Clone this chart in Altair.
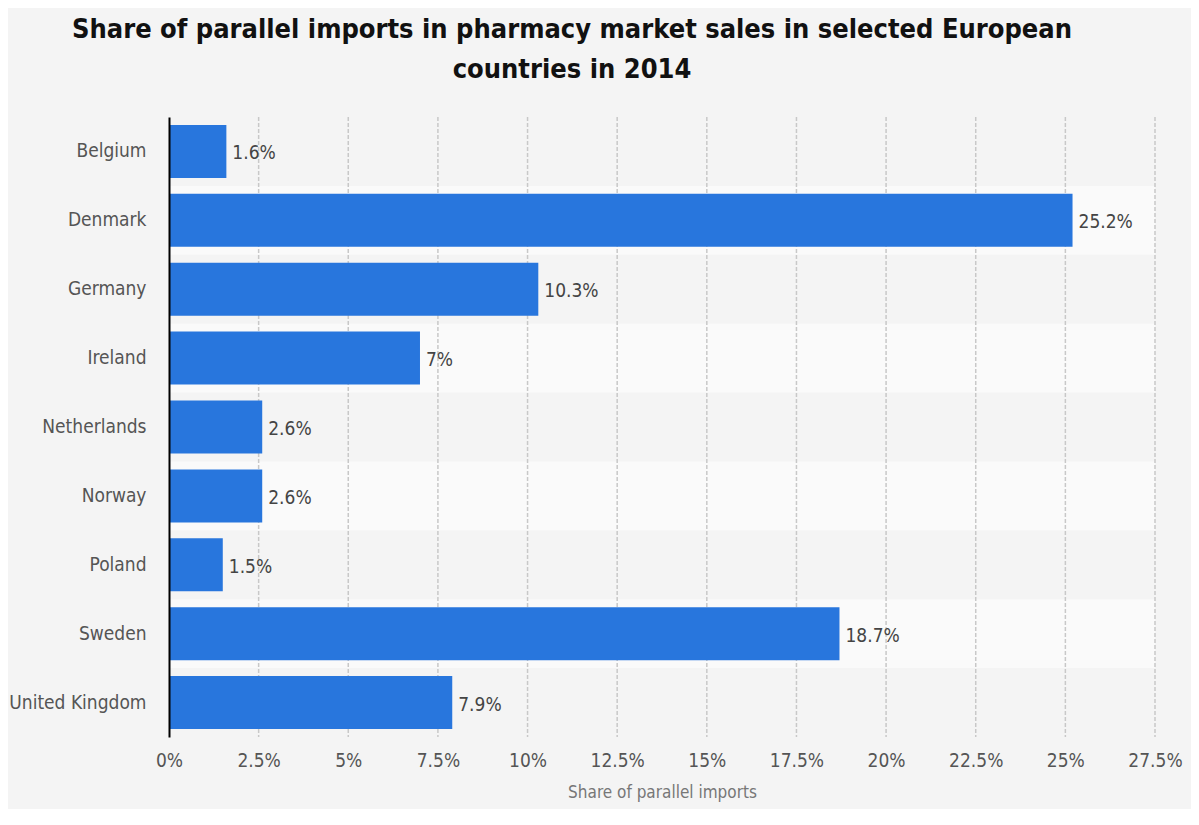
import altair as alt
import pandas as pd

countries = ["Belgium", "Denmark", "Germany", "Ireland", "Netherlands",
             "Norway", "Poland", "Sweden", "United Kingdom"]
values = [1.6, 25.2, 10.3, 7.0, 2.6, 2.6, 1.5, 18.7, 7.9]
labels = ["1.6%", "25.2%", "10.3%", "7%", "2.6%", "2.6%", "1.5%", "18.7%", "7.9%"]
tick_values = [0, 2.5, 5, 7.5, 10, 12.5, 15, 17.5, 20, 22.5, 25, 27.5]

df = pd.DataFrame({
    "country": countries,
    "value": values,
    "label": labels,
    "band": [i % 2 for i in range(len(countries))],
})
grid_df = pd.DataFrame({"tick": tick_values[1:]})

W, H = 986, 620
FONT = "DejaVu Sans Condensed"

yenc = alt.Y("country:N", sort=countries,
             scale=alt.Scale(paddingInner=0, paddingOuter=0),
             axis=alt.Axis(title=None, labelFontSize=19, labelColor="#555555",
                           labelFont=FONT, labelPadding=23, ticks=False,
                           domainColor="#000000", domainWidth=2, grid=False))
xscale = alt.Scale(domain=[0, 27.5], nice=False)
xenc = alt.X("value:Q", scale=xscale,
             axis=alt.Axis(title="Share of parallel imports", values=tick_values,
                           labelExpr="datum.value + '%'", labelFontSize=19,
                           labelFlush=False,
                           labelColor="#555555", labelFont=FONT, labelPadding=14,
                           ticks=False, domain=False, grid=False,
                           titleFont=FONT, titleFontSize=17, titleFontWeight="normal",
                           titleColor="#777777", titlePadding=14))

bands = alt.Chart(df).transform_filter("datum.band == 1").mark_rect(
    color="#fafafa").encode(y=yenc, x=alt.value(0), x2=alt.value(W))

grid = alt.Chart(grid_df).mark_rule(
    color="#c8c8c8", strokeWidth=1.5, strokeDash=[4, 2]).encode(
    x=alt.X("tick:Q", scale=xscale), y=alt.value(0), y2=alt.value(H))

bars = alt.Chart(df).mark_bar(size=53, color="#2876dd").encode(y=yenc, x=xenc)

text = alt.Chart(df).mark_text(align="left", baseline="middle", dx=6, dy=2,
                               fontSize=19, font=FONT, color="#444444").encode(
    y=alt.Y("country:N", sort=countries), x=alt.X("value:Q"), text="label:N")

chart = alt.layer(bands, grid, bars, text).properties(
    width=W, height=H,
    title=alt.TitleParams(
        text=["Share of parallel imports in pharmacy market sales in selected European",
              "countries in 2014"],
        font=FONT, fontSize=27, fontWeight="bold", color="#111111",
        anchor="middle", dx=-90, lineHeight=40, offset=32),
    background="#f4f4f4",
    autosize=alt.AutoSizeParams(type="none"),
    padding={"left": 161, "top": 109, "right": 36, "bottom": 72},
).configure_view(stroke=None)

chart.save("out.html", embed_options={"renderer": "svg", "actions": False})
